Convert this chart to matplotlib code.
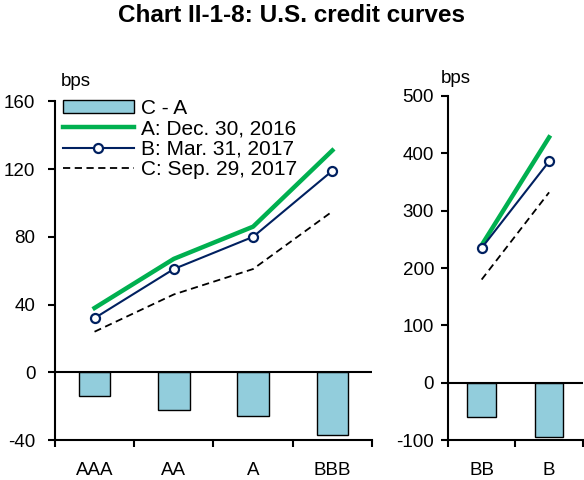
import matplotlib.pyplot as plt
from matplotlib.patches import Patch
from matplotlib.lines import Line2D

plt.rcParams['font.family'] = ['Liberation Sans', 'DejaVu Sans']
plt.rcParams['axes.unicode_minus'] = False

ig_cats = ['AAA', 'AA', 'A', 'BBB']
ig_a = [38, 67, 86, 131]
ig_b = [32, 61, 80, 119]
ig_c = [24, 46, 61, 95]
ig_diff = [-14, -22, -26, -37]

hy_cats = ['BB', 'B']
hy_a = [240, 428]
hy_b = [235, 386]
hy_c = [180, 332]
hy_diff = [-60, -95]

green = '#00B050'
navy = '#002060'
barcol = '#92CDDC'
fs = 13.5

fig = plt.figure(figsize=(5.84, 4.8), dpi=100)
ax1 = fig.add_axes([0.094, 0.083, 0.543, 0.706])
ax2 = fig.add_axes([0.767, 0.083, 0.231, 0.717])


def draw(ax, cats, a, b, c, diff, ylim, yticks, bw, ypad):
    x = list(range(len(cats)))
    ax.bar(x, diff, width=bw, color=barcol, edgecolor='black', linewidth=1.0, zorder=2)
    ax.plot(x, a, color=green, lw=3.2, zorder=3)
    ax.plot(x, b, color=navy, lw=1.5, marker='o', ms=6.5, mfc='white',
            mec=navy, mew=1.6, zorder=4)
    ax.plot(x, c, color='black', lw=1.3, ls=(0, (4, 2.5)), zorder=3)
    ax.axhline(0, color='black', lw=1.5, zorder=5)
    ax.set_xlim(-0.5, len(cats) - 0.5)
    ax.set_ylim(*ylim)
    ax.set_yticks(yticks)
    ax.set_xticks(x)
    ax.set_xticklabels(cats)
    ax.set_xticks([i - 0.5 for i in range(len(cats) + 1)], minor=True)
    ax.tick_params(axis='x', which='major', length=0, pad=16, labelsize=fs)
    ax.tick_params(axis='x', which='minor', length=5, width=1.5, direction='out')
    ax.tick_params(axis='y', length=5, width=1.5, direction='out', labelsize=fs, pad=ypad)
    for s in ['top', 'right']:
        ax.spines[s].set_visible(False)
    for s in ['left', 'bottom']:
        ax.spines[s].set_linewidth(1.5)
    ax.set_facecolor('none')


draw(ax1, ig_cats, ig_a, ig_b, ig_c, ig_diff, (-40, 160), [-40, 0, 40, 80, 120, 160], 0.4, 9)
draw(ax2, hy_cats, hy_a, hy_b, hy_c, hy_diff, (-100, 500),
     [-100, 0, 100, 200, 300, 400, 500], 0.42, 5)

fig.text(61 / 584, 1 - 86 / 480, 'bps', ha='left', va='baseline', fontsize=fs)
fig.text(441 / 584, 1 - 83 / 480, 'bps', ha='left', va='baseline', fontsize=fs)

handles = [
    Patch(facecolor=barcol, edgecolor='black', linewidth=1.0),
    Line2D([], [], color=green, lw=3.2),
    Line2D([], [], color=navy, lw=1.5, marker='o', ms=6.5, mfc='white', mec=navy, mew=1.6),
    Line2D([], [], color='black', lw=1.3, ls=(0, (4, 2.5))),
]
labels = ['C - A', 'A: Dec. 30, 2016', 'B: Mar. 31, 2017', 'C: Sep. 29, 2017']
ax1.legend(handles, labels, loc='upper left', bbox_to_anchor=(0.025, 1.008), frameon=False,
           fontsize=15, handlelength=3.4, handleheight=0.6, labelspacing=0.07,
           handletextpad=0.33, borderaxespad=0, borderpad=0)

fig.text(0.5, 1 - 16 / 480, 'Chart II-1-8: U.S. credit curves', ha='center',
         va='center', fontsize=17.5, fontweight='bold')

fig.savefig('out.png', dpi=100)
